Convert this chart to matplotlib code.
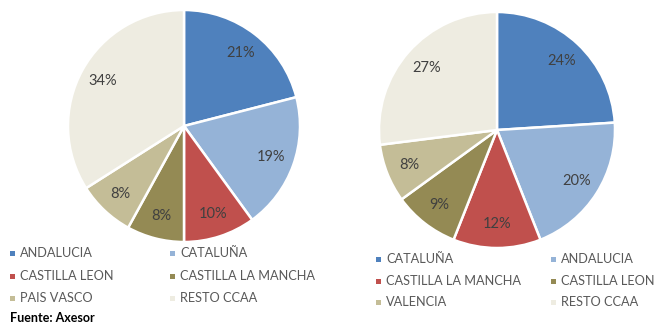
import matplotlib.pyplot as plt
from matplotlib.patches import Rectangle

plt.rcParams['font.family'] = ['Lato', 'DejaVu Sans']

# first pie
left_labels = ['ANDALUCIA', 'CATALUÑA', 'CASTILLA LEON', 'CASTILLA LA MANCHA',
               'PAIS VASCO', 'RESTO CCAA']
left_values = [21, 19, 10, 8, 8, 34]

# second pie
right_labels = ['CATALUÑA', 'ANDALUCIA', 'CASTILLA LA MANCHA', 'CASTILLA LEON',
                'VALENCIA', 'RESTO CCAA']
right_values = [24, 20, 12, 9, 8, 27]

colors = ['#4F81BD', '#95B3D7', '#C0504D', '#948A54', '#C4BD97', '#EEECE1']
source = 'Fuente: Axesor'

W, H = 659, 325
fig = plt.figure(figsize=(W / 100, H / 100), dpi=100)


def pie_axes(cx, cy, r):
    ax = fig.add_axes([(cx - r) / W, 1 - (cy + r) / H, 2 * r / W, 2 * r / H])
    ax.set_xlim(-1, 1)
    ax.set_ylim(-1, 1)
    ax.axis('off')
    return ax


def draw_pie(ax, values):
    ax.pie(values, colors=colors, startangle=90, counterclock=False, radius=1,
           labels=None, autopct=lambda p: f'{p:.0f}%', pctdistance=0.8,
           wedgeprops=dict(edgecolor='white', linewidth=1.8),
           textprops=dict(color='#404040', fontsize=10.5))
    ax.set_xlim(-1, 1)
    ax.set_ylim(-1, 1)


def draw_legend(labels, col_x, row_y):
    for i, lab in enumerate(labels):
        x = col_x[i % 2]
        y = row_y[i // 2]
        fig.patches.append(Rectangle(((x) / W, 1 - (y + 2.5) / H), 5 / W, 5 / H,
                                     transform=fig.transFigure,
                                     facecolor=colors[i], edgecolor='none'))
        fig.text((x + 10) / W, 1 - y / H, lab, ha='left', va='center',
                 fontsize=9.2, color='#595959')


ax1 = pie_axes(184, 126, 116)
draw_pie(ax1, left_values)
ax2 = pie_axes(497, 130, 118)
draw_pie(ax2, right_values)

draw_legend(left_labels, [10, 170], [253, 276, 298])
draw_legend(right_labels, [376, 551], [259, 281, 302])

fig.text(10 / W, 1 - 318 / H, source, ha='left', va='center',
         fontsize=9, fontweight='bold', color='black')

fig.savefig('out.png', dpi=100)
